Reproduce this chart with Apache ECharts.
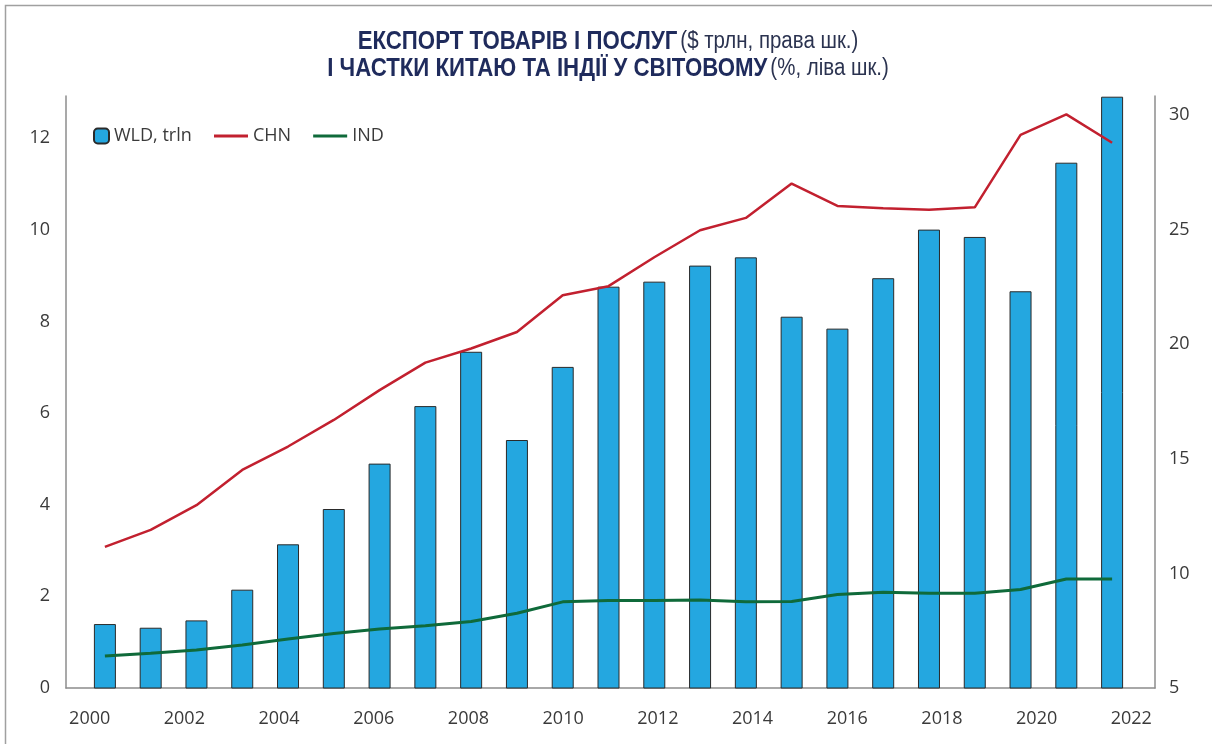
<!DOCTYPE html>
<html lang="uk">
<head>
<meta charset="UTF-8" />
<title>Експорт товарів і послуг</title>
<script src="https://cdn.jsdelivr.net/npm/echarts@6.0.0/dist/echarts.min.js"></script>
<style>
  html, body { margin: 0; padding: 0; background: #fff; }
  #chart { width: 1212px; height: 744px; }
</style>
</head>
<body>
<div id="chart"></div>
<script>
  // роки
  var years = ['2000', '2001', '2002', '2003', '2004', '2005', '2006', '2007', '2008', '2009', '2010', '2011',
    '2012', '2013', '2014', '2015', '2016', '2017', '2018', '2019', '2020', '2021', '2022']
  // світовий експорт, $ трлн (права шкала)
  var wld = [7.79, 7.63, 7.95, 9.29, 11.27, 12.81, 14.79, 17.30, 19.67, 15.82, 19.01, 22.51,
    22.73, 23.43, 23.79, 21.20, 20.68, 22.88, 25.00, 24.68, 22.31, 27.92, 30.80]
  // частка Китаю, % (ліва шкала)
  var chn = [3.08, 3.45, 3.99, 4.76, 5.27, 5.85, 6.50, 7.10, 7.41, 7.77, 8.57, 8.77,
    9.40, 9.99, 10.26, 11.01, 10.52, 10.47, 10.44, 10.49, 12.07, 12.52, 11.90]
  // частка Індії, %
  var ind = [0.70, 0.76, 0.83, 0.94, 1.07, 1.19, 1.29, 1.36, 1.45, 1.63, 1.88, 1.91,
    1.91, 1.92, 1.88, 1.89, 2.04, 2.09, 2.07, 2.07, 2.15, 2.38, 2.38]

  var titleLines = [
    ['ЕКСПОРТ ТОВАРІВ І ПОСЛУГ', '($ трлн, права шк.)'],
    ['І ЧАСТКИ КИТАЮ ТА ІНДІЇ У СВІТОВОМУ', '(%, ліва шк.)']
  ]

  var leftMin = 0, leftMax = 12.92, leftStep = 2
  var rightMin = 5, rightMax = 30.83, rightStep = 5

  var font = 'Open Sans, Noto Sans, sans-serif'
  var axisGray = '#8c8c8c'
  var textGray = '#3a3a3a'

  var titleRich = {
    b: { fontFamily: 'Liberation Sans, Arial, sans-serif', fontWeight: 'bold', fontSize: 25, fill: '#1f2b5c' },
    n: { fontFamily: 'Liberation Sans, Arial, sans-serif', fontWeight: 'normal', fontSize: 23, fill: '#2b3350' }
  }

  // заголовок: два рядки, трохи звужені по горизонталі
  var titleGraphics = titleLines.map(function (l, i) {
    return {
      type: 'text',
      x: 608,
      y: 42 + i * 27,
      scaleX: 0.89,
      silent: true,
      style: {
        text: '{b|' + l[0] + '} {n|' + l[1] + '}',
        rich: titleRich,
        align: 'center',
        verticalAlign: 'middle'
      }
    }
  })

  var chart = echarts.init(document.getElementById('chart'))

  var option = {
    animation: false,
    textStyle: { fontFamily: font },
    graphic: [{
      type: 'rect',
      shape: { x: 5.5, y: 5.5, width: 1300, height: 800 },
      style: { fill: 'none', stroke: '#a0a0a0', lineWidth: 1.5 },
      silent: true
    }].concat(titleGraphics),
    legend: [{
      data: ['WLD, trln'],
      left: 88,
      top: 122,
      itemWidth: 15,
      itemHeight: 15,
      textStyle: { fontSize: 18, color: textGray, fontFamily: font }
    }, {
      data: [{ name: 'CHN', icon: 'rect' }, { name: 'IND', icon: 'rect' }],
      left: 209,
      top: 122,
      itemWidth: 34,
      itemHeight: 3,
      itemGap: 22,
      textStyle: { fontSize: 18, color: textGray, fontFamily: font }
    }],
    grid: [
      // рамка з осями та підписами
      { left: 66, right: 57, top: 96, bottom: 56 },
      // область даних
      { left: 82, right: 77, top: 96, bottom: 56 }
    ],
    xAxis: [{
      gridIndex: 0,
      type: 'category',
      data: years,
      axisLine: { lineStyle: { color: axisGray, width: 1.5 } },
      axisTick: { show: false },
      axisLabel: { interval: 1, fontSize: 18, color: textGray, margin: 22 }
    }, {
      gridIndex: 1,
      type: 'category',
      data: years,
      show: false
    }],
    yAxis: [{
      gridIndex: 0,
      type: 'value',
      position: 'left',
      min: leftMin, max: leftMax, interval: leftStep,
      axisLine: { show: true, lineStyle: { color: axisGray, width: 1.5 } },
      axisTick: { show: false },
      splitLine: { show: false },
      axisLabel: {
        fontSize: 18, color: textGray, margin: 16,
        formatter: function (v) { return v % leftStep === 0 ? v : '' }
      }
    }, {
      gridIndex: 0,
      type: 'value',
      position: 'right',
      min: rightMin, max: rightMax, interval: rightStep,
      axisLine: { show: true, lineStyle: { color: axisGray, width: 1.5 } },
      axisTick: { show: false },
      splitLine: { show: false },
      axisLabel: {
        fontSize: 18, color: textGray, margin: 14,
        formatter: function (v) { return v % rightStep === 0 ? v : '' }
      }
    }, {
      gridIndex: 1, type: 'value', min: leftMin, max: leftMax, show: false, splitLine: { show: false }
    }, {
      gridIndex: 1, type: 'value', min: rightMin, max: rightMax, show: false, splitLine: { show: false }
    }],
    series: [{
      name: 'WLD, trln',
      type: 'bar',
      xAxisIndex: 1,
      yAxisIndex: 3,
      data: wld,
      barWidth: 22,
      clip: true,
      itemStyle: { color: '#24a7e0', borderColor: '#2a2a2a', borderWidth: 1 }
    }, {
      name: 'CHN',
      type: 'line',
      xAxisIndex: 1,
      yAxisIndex: 2,
      data: chn,
      symbol: 'none',
      lineStyle: { color: '#c2202f', width: 2.5 },
      itemStyle: { color: '#c2202f' }
    }, {
      name: 'IND',
      type: 'line',
      xAxisIndex: 1,
      yAxisIndex: 2,
      data: ind,
      symbol: 'none',
      lineStyle: { color: '#0f6a3a', width: 3 },
      itemStyle: { color: '#0f6a3a' }
    }]
  }

  chart.setOption(option)
</script>
</body>
</html>
